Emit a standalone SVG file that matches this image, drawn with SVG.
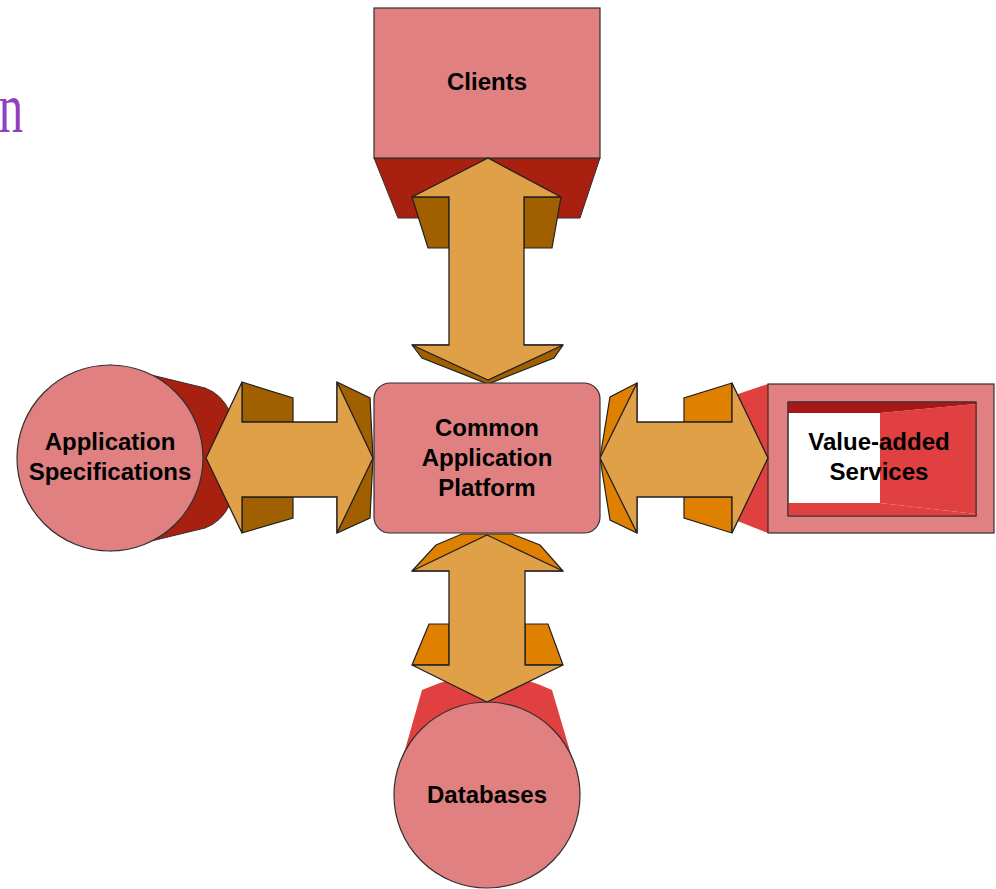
<svg xmlns="http://www.w3.org/2000/svg" width="996" height="889" viewBox="0 0 996 889">
<style>
.pink{fill:#E08080;stroke:#303030;stroke-width:1.2}
.dred{fill:#A82010;stroke:#303030;stroke-width:1}
.red{fill:#E04040;stroke:none}
.lite{fill:#E0A048;stroke:#202020;stroke-width:1.3;stroke-linejoin:miter}
.brn{fill:#A06000;stroke:#202020;stroke-width:1.2}
.org{fill:#E08000;stroke:#202020;stroke-width:1.2}
.lbl{font-family:"Liberation Sans",Arial,sans-serif;font-weight:bold;font-size:24px;fill:#000;text-anchor:middle}
</style>
<rect width="996" height="889" fill="#fff"/>
<text x="-2" y="132" transform="scale(0.68,1)" font-family="Liberation Serif,serif" font-size="72" fill="#9040C0">n</text>

<g id="clients">
  <polygon class="dred" points="374,158 600,158 580,218 398,218"/>
  <rect class="pink" x="374" y="8" width="226" height="150"/>
  <text class="lbl" x="487" y="90">Clients</text>
</g>

<g id="appspec">
  <path class="dred" d="M110 365 L205 388 Q238 400 238 458 Q238 516 205 528 L110 551 Z"/>
  <circle class="pink" cx="110" cy="458" r="93"/>
  <text class="lbl" x="110" y="450">Application</text>
  <text class="lbl" x="110" y="480">Specifications</text>
</g>

<g id="databases">
  <path class="red" d="M395 785 L422 690 Q487 660 552 690 L580 785 Z"/>
  <circle class="pink" cx="487" cy="795" r="93"/>
  <text class="lbl" x="487" y="803">Databases</text>
</g>

<g id="valueadded">
  <polygon class="red" points="735,395 768,384 768,533 735,520"/>
  <rect class="pink" x="768" y="384" width="226" height="149"/>
  <rect x="788" y="402" width="188" height="114" fill="#fff" stroke="#303030" stroke-width="1"/>
  <polygon fill="#E04040" points="880,413 976,404 976,514 880,503"/>
  <polygon fill="#A81818" points="788,402 976,402 976,404 880,413 788,413"/>
  <polygon fill="#E04040" points="788,503 880,503 976,514 976,516 788,516"/>
  <rect x="788" y="402" width="188" height="114" fill="none" stroke="#303030" stroke-width="1"/>
  <text class="lbl" x="879" y="450">Value-added</text>
  <text class="lbl" x="879" y="480">Services</text>
</g>

<g id="connectors">
  <!-- top vertical arrow -->
  <polygon class="brn" points="412,197 449,197 449,248 428,248"/>
  <polygon class="brn" points="524,197 561,197 552,248 524,248"/>
  <polygon class="brn" points="412,345 422,358 488,384 554,358 563,345"/>
  <polygon class="lite" points="488,158 561,197 524,197 524,345 563,345 488,380 412,345 449,345 449,197 412,197"/>
  <!-- left horizontal arrow -->
  <polygon class="brn" points="242,382 293,398 293,422 242,422"/>
  <polygon class="brn" points="242,533 293,518 293,497 242,497"/>
  <polygon class="brn" points="337,382 370,398 373,458 370,518 337,533"/>
  <polygon class="lite" points="206,458 242,382 242,422 337,422 337,382 373,458 337,533 337,497 242,497 242,533"/>
  <!-- right horizontal arrow -->
  <polygon class="org" points="637,383 610,397 600,458 610,520 637,533"/>
  <polygon class="org" points="732,383 684,398 684,422 732,422"/>
  <polygon class="org" points="732,533 684,518 684,497 732,497"/>
  <polygon class="lite" points="600,458 637,383 637,422 732,422 732,383 768,458 732,533 732,497 637,497 637,533"/>
  <!-- bottom vertical arrow -->
  <polygon class="org" points="412,571 436,545 462,534 512,534 540,545 563,571"/>
  <polygon class="org" points="429,624 449,624 449,665 412,665"/>
  <polygon class="org" points="525,624 548,624 563,665 525,665"/>
  <polygon class="lite" points="487,535 563,571 525,571 525,665 563,665 487,702 412,665 449,665 449,571 412,571"/>
</g>

<g id="platform">
  <rect class="pink" x="374" y="383" width="226" height="150" rx="16"/>
  <text class="lbl" x="487" y="436">Common</text>
  <text class="lbl" x="487" y="466">Application</text>
  <text class="lbl" x="487" y="496">Platform</text>
</g>
</svg>
